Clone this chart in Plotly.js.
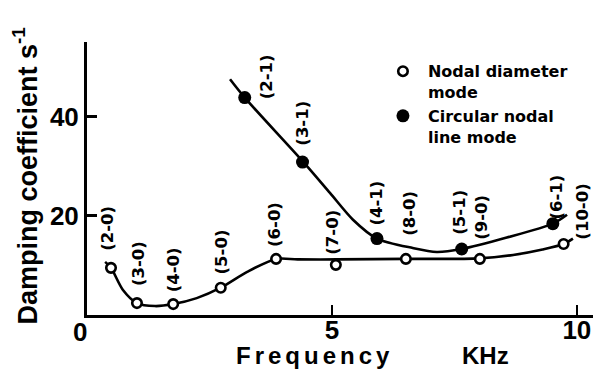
<!DOCTYPE html>
<html>
<head>
<meta charset="utf-8">
<script src="https://cdn.plot.ly/plotly-3.0.1.min.js"></script>
<style>
html,body{margin:0;padding:0;background:#fff;}
#chart{width:596px;height:371px;}
</style>
</head>
<body>
<div id="chart"></div>
<script>
// ---- data ----
// Nodal diameter modes (open circles)
const nodalLabels = ["(2-0)","(3-0)","(4-0)","(5-0)","(6-0)","(7-0)","(8-0)","(9-0)","(10-0)"];
const nodalFreq   = [0.49, 1.02, 1.76, 2.73, 3.86, 5.08, 6.51, 8.02, 9.73];
const nodalDamp   = [9.5, 2.4, 2.2, 5.5, 11.3, 10.1, 11.3, 11.3, 14.3];
// Circular nodal line modes (filled circles)
const circLabels = ["(2-1)","(3-1)","(4-1)","(5-1)","(6-1)"];
const circFreq   = [3.22, 4.40, 5.92, 7.65, 9.51];
const circDamp   = [43.8, 30.8, 15.4, 13.3, 18.4];
// Hand-drawn smooth curves
const nodalCurveX = [0.37, 0.49, 0.73, 1.02, 1.39, 1.76, 2.24, 2.73, 3.27, 3.86, 4.3, 5.1, 6.5, 8.0, 8.7, 9.3, 9.73, 9.92];
const nodalCurveY = [10.7, 9.5, 5.1, 2.4, 1.8, 2.2, 3.4, 5.5, 8.7, 11.3, 11.2, 11.2, 11.3, 11.4, 12.1, 13.2, 14.3, 15.4];
const circCurveX  = [2.92, 3.22, 4.41, 4.96, 5.43, 5.92, 6.65, 7.14, 7.65, 8.57, 9.51, 9.80];
const circCurveY  = [47.5, 43.8, 30.9, 24.6, 19.2, 15.4, 13.5, 12.7, 13.3, 15.6, 18.4, 20.2];
// Tick values
const xTicks = [5, 10];
const yTicks = [20, 40];

// ---- label pixel offsets (styling, not data) ----
const nodalLabelShift = [[-3,39],[1,40],[0,34],[1,36],[-1,34],[-3,33],[4,46],[2,42],[18,32]];
const circLabelShift  = [[22,21],[0,39],[0,36],[-2,37],[4,27]];

const INK = '#000';
const tickFont = {family:'Liberation Sans, Arial, sans-serif', size:26, weight:700, color:INK};
const labFont  = {family:'DejaVu Sans, sans-serif', size:16.5, weight:700, color:INK};

const traces = [
  {x:nodalCurveX, y:nodalCurveY, mode:'lines', line:{color:INK, width:2.6, shape:'spline', smoothing:0.8}, showlegend:false, hoverinfo:'skip'},
  {x:circCurveX, y:circCurveY, mode:'lines', line:{color:INK, width:2.6, shape:'spline', smoothing:0.8}, showlegend:false, hoverinfo:'skip'},
  {x:nodalFreq, y:nodalDamp, mode:'markers', name:'Nodal diameter<br>mode',
   marker:{symbol:'circle', size:9.5, color:'#fff', line:{color:INK, width:2.6}}},
  {x:circFreq, y:circDamp, mode:'markers', name:'Circular nodal<br>line mode',
   marker:{symbol:'circle', size:13, color:INK, line:{color:INK, width:0}}}
];

const annotations = [];
nodalLabels.forEach((t,i)=>annotations.push({x:nodalFreq[i], y:nodalDamp[i], xref:'x', yref:'y', text:t, showarrow:false,
  textangle:-90, xshift:nodalLabelShift[i][0], yshift:nodalLabelShift[i][1], font:labFont}));
circLabels.forEach((t,i)=>annotations.push({x:circFreq[i], y:circDamp[i], xref:'x', yref:'y', text:t, showarrow:false,
  textangle:-90, xshift:circLabelShift[i][0], yshift:circLabelShift[i][1], font:labFont}));
// origin "0"
annotations.push({x:0, y:0, xref:'x', yref:'y', text:'0', showarrow:false, xshift:-7, yshift:-17, font:tickFont});
// axis titles
annotations.push({x:-0.1225, y:0.507, xref:'paper', yref:'paper', text:'Damping coefficient s<sup>-1</sup>', showarrow:false,
  textangle:-90, xanchor:'center', yanchor:'middle', font:{family:'Liberation Sans, Arial, sans-serif', size:27, weight:700, color:INK}});
annotations.push({x:0.4506, y:-0.15, xref:'paper', yref:'paper', text:'Frequency', showarrow:false,
  xanchor:'center', yanchor:'middle', font:{family:'Liberation Sans, Arial, sans-serif', size:24, weight:700, color:INK}});
annotations.push({x:0.7866, y:-0.15, xref:'paper', yref:'paper', text:'KHz', showarrow:false,
  xanchor:'center', yanchor:'middle', font:{family:'Liberation Sans, Arial, sans-serif', size:24, weight:700, color:INK}});

const layout = {
  width:596, height:371,
  margin:{l:87, r:3, t:42, b:56, pad:0},
  paper_bgcolor:'#fff', plot_bgcolor:'#fff',
  showlegend:true,
  legend:{x:0.575, y:0.955, xanchor:'left', yanchor:'top', valign:'top', bgcolor:'rgba(0,0,0,0)', itemwidth:40,
          font:{family:'DejaVu Sans, sans-serif', size:16, weight:700, color:INK}, tracegroupgap:0},
  xaxis:{range:[0,10.33], showgrid:false, zeroline:false, showline:true, linecolor:INK, linewidth:3,
         ticks:'inside', ticklen:10, tickwidth:2.5, tickcolor:INK, tickvals:xTicks, ticktext:xTicks.map(String),
         tickfont:tickFont, ticklabelstandoff:-10, fixedrange:true},
  yaxis:{range:[0,55], showgrid:false, zeroline:false, showline:true, linecolor:INK, linewidth:3,
         ticks:'inside', ticklen:10, tickwidth:2.5, tickcolor:INK, tickvals:yTicks, ticktext:yTicks.map(String),
         tickfont:tickFont, fixedrange:true},
  annotations:annotations
};

Plotly.newPlot('chart', traces, layout, {staticPlot:true}).then(()=>{
  document.querySelectorAll('.annotation-text').forEach(el=>{
    if (el.textContent==='Frequency') el.style.letterSpacing='4px';
  });
});
</script>
</body>
</html>
